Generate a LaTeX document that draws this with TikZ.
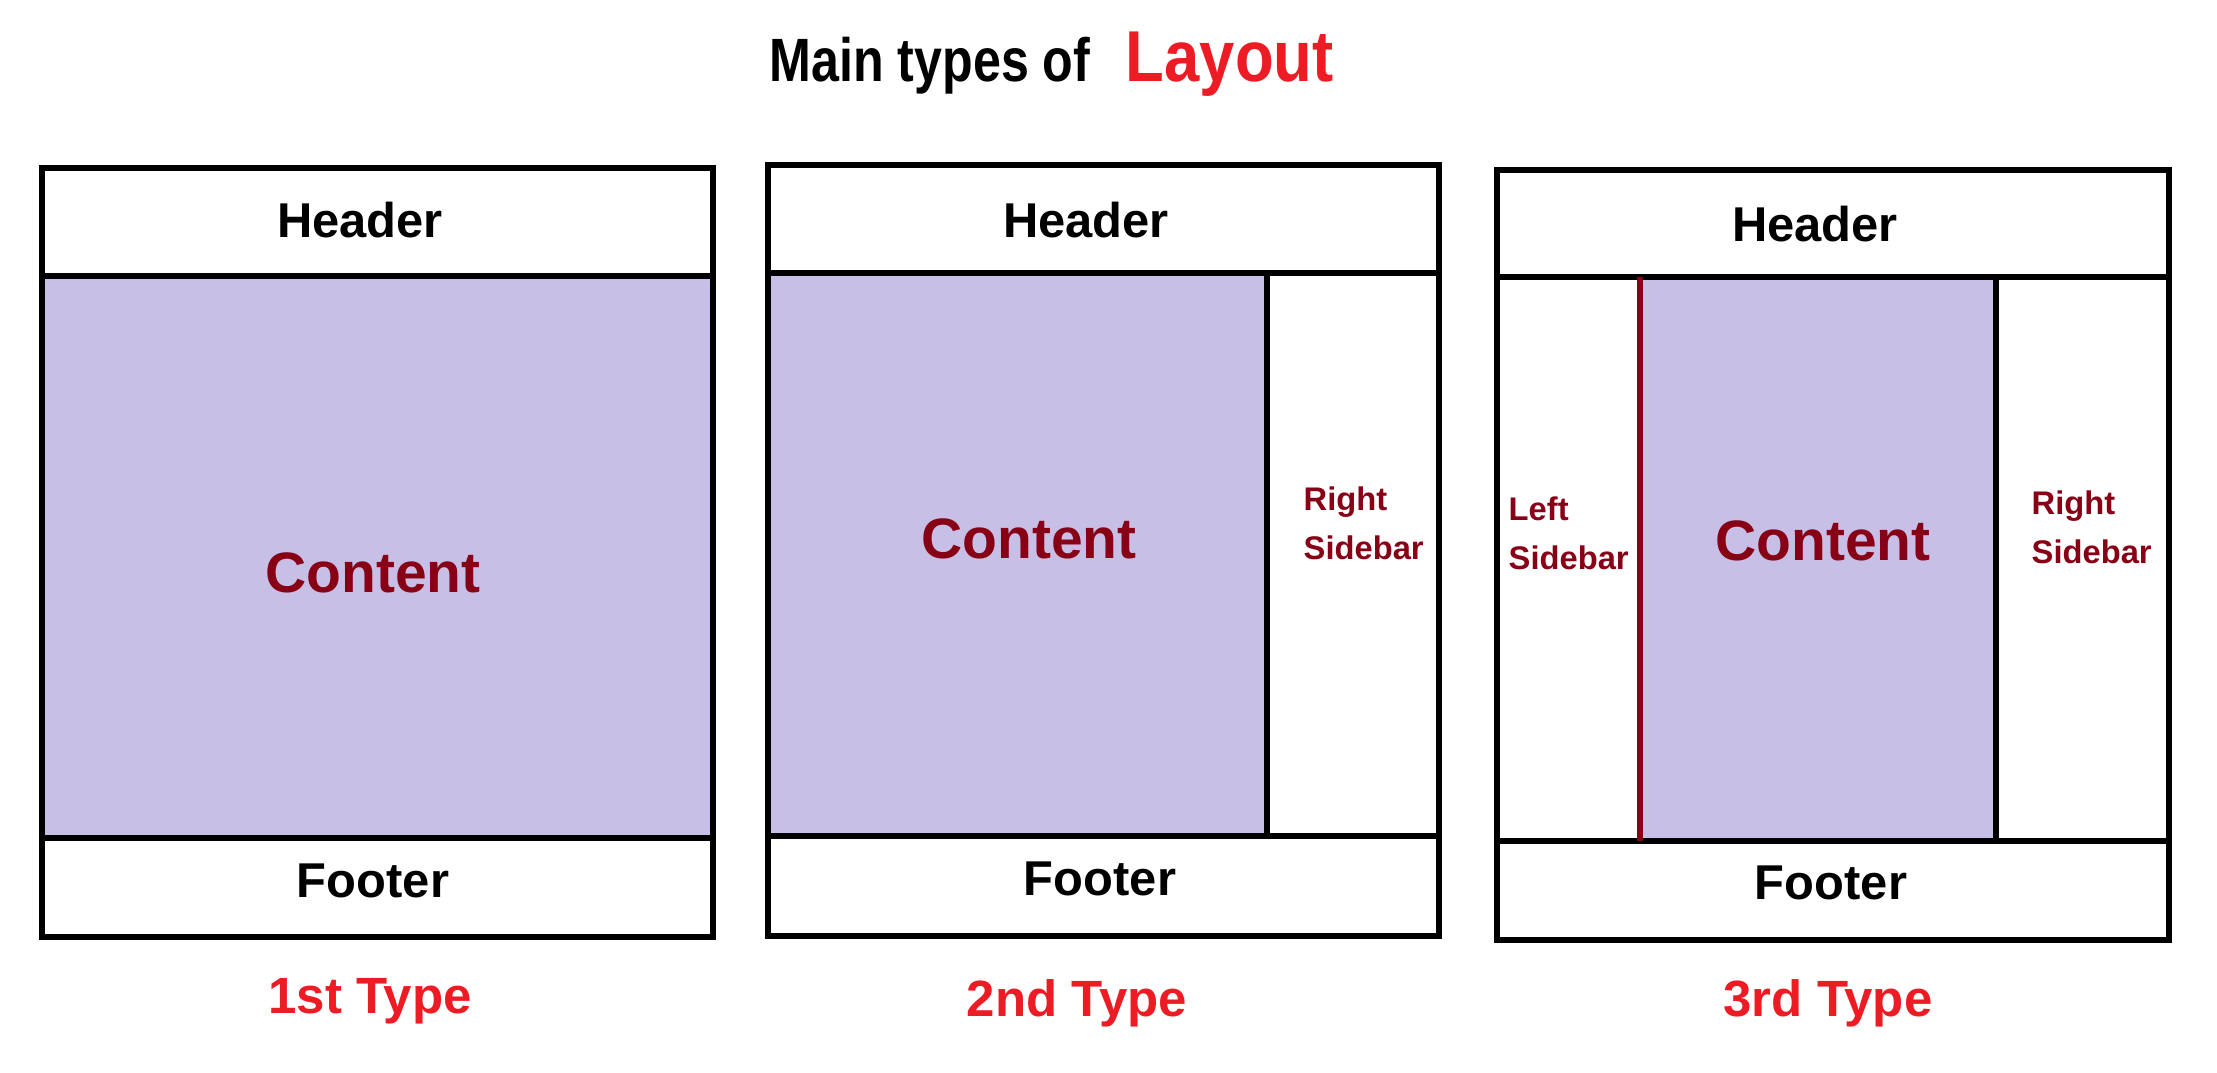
\documentclass[tikz,border=0pt]{standalone}
\usepackage{fontspec}
\setmainfont{Liberation Sans}
\newfontfamily\titlefont[FakeStretch=0.82]{Liberation Sans}
\newfontfamily\layoutfont[FakeStretch=0.88]{Liberation Sans}
\usetikzlibrary{positioning}
\definecolor{lavender}{RGB}{200,191,231}
\definecolor{darkred}{RGB}{136,0,21}
\definecolor{labelred}{RGB}{237,28,36}
\tikzset{
	frame/.style={
		draw=black,
		line width=1.5pt
	},
	area/.style={
		fill=lavender
	},
	partname/.style={
		anchor=base,
		inner sep=0pt,
		font=\bfseries\fontsize{13.9}{16}\selectfont
	},
	contentname/.style={
		anchor=base,
		inner sep=0pt,
		text=darkred,
		font=\bfseries\fontsize{16.2}{19}\selectfont
	},
	sidename/.style={
		anchor=north west,
		inner sep=0pt,
		align=left,
		text=darkred,
		font=\bfseries\fontsize{9.3}{13.9}\selectfont
	},
	typename/.style={
		anchor=base,
		inner sep=0pt,
		text=labelred,
		font=\bfseries\fontsize{14.5}{17}\selectfont
	},
}
\begin{document}
\begin{tikzpicture}[x=0.01cm,y=-0.01cm]
		\useasboundingbox (0,0) rectangle (2217,1072);
		
		% title
		\node (maintitle) [anchor=base west,inner sep=0pt,font=\titlefont\bfseries\fontsize{17.4}{20}\selectfont] at (769,81) {Main types of};
		\node (layoutword) [base right=0.34cm of maintitle,inner sep=0pt,text=labelred,font=\layoutfont\bfseries\fontsize{20.5}{24}\selectfont] {Layout};
		
		% 1st type
		\fill [area] (42,276) rectangle (713,838);
		\draw [frame] (42,168) rectangle (713,937);
		\draw [frame] (42,276) -- (713,276);
		\draw [frame] (42,838) -- (713,838);
		\node (head1) [partname] at (360,237) {Header};
		\node (cont1) [contentname] at (373,592) {Content};
		\node (foot1) [partname] at (373,897) {Footer};
		\node (type1) [typename] at (370,1013) {1st Type};
		
		% 2nd type
		\fill [area] (768,273) rectangle (1267,836);
		\draw [frame] (768,165) rectangle (1439,936);
		\draw [frame] (768,273) -- (1439,273);
		\draw [frame] (768,836) -- (1439,836);
		\draw [frame] (1267,273) -- (1267,836);
		\node (head2) [partname] at (1086,237) {Header};
		\node (cont2) [contentname] at (1029,558) {Content};
		\node (right2) [sidename] at (1303,486) {Right\\Sidebar};
		\node (foot2) [partname] at (1100,895) {Footer};
		\node (type2) [typename] at (1077,1016) {2nd Type};
		
		% 3rd type
		\fill [area] (1640,277) rectangle (1996,841);
		\draw [frame] (1497,170) rectangle (2169,940);
		\draw [frame] (1497,277) -- (2169,277);
		\draw [frame] (1497,841) -- (2169,841);
		\draw [frame] (1996,277) -- (1996,841);
		\draw [frame,draw=darkred] (1640,277) -- (1640,841);
		\node (head3) [partname] at (1815,241) {Header};
		\node (left3) [sidename] at (1508,496) {Left\\Sidebar};
		\node (cont3) [contentname] at (1823,560) {Content};
		\node (right3) [sidename] at (2031,490) {Right\\Sidebar};
		\node (foot3) [partname] at (1831,899) {Footer};
		\node (type3) [typename] at (1828,1016) {3rd Type};
		
\end{tikzpicture}
\end{document}
